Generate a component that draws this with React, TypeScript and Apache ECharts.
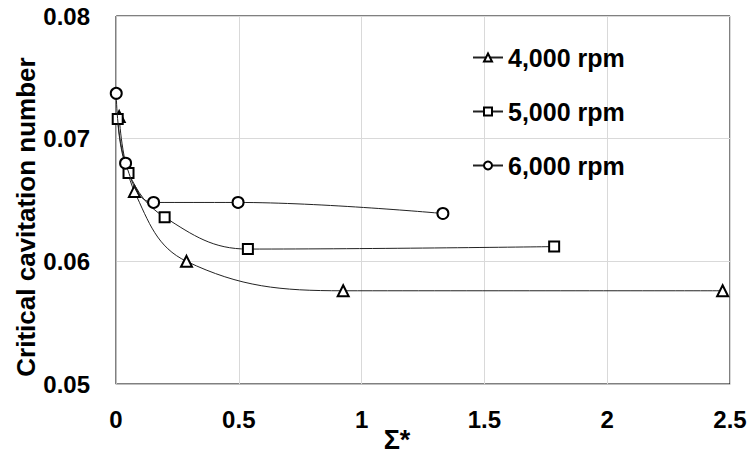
import React, { useEffect, useRef } from "react";
import * as echarts from "echarts";

const seriesNames = ["4,000 rpm", "5,000 rpm", "6,000 rpm"];
const symbols = ["triangle", "rect", "circle"];

const x4000 = [0.013, 0.075, 0.287, 0.925, 2.47];
const y4000 = [0.0718, 0.0657, 0.06, 0.0576, 0.0576];

const x5000 = [0.007, 0.051, 0.198, 0.537, 1.784];
const y5000 = [0.0716, 0.0672, 0.0636, 0.061, 0.0612];

const x6000 = [0.001, 0.039, 0.153, 0.497, 1.331];
const y6000 = [0.0737, 0.068, 0.0648, 0.0648, 0.0639];

const xTicks = [0, 0.5, 1, 1.5, 2, 2.5];
const yTicks = [0.05, 0.06, 0.07, 0.08];

const FONT = "'Liberation Sans', Arial, sans-serif";

export default function App() {
  const ref = useRef<HTMLDivElement>(null);
  useEffect(() => {
    document.body.style.margin = "0";
    if (!ref.current) return;
    const chart = echarts.init(ref.current, null, { renderer: "svg" });
    const xs = [x4000, x5000, x6000];
    const ys = [y4000, y5000, y6000];
    chart.setOption({
      animation: false,
      backgroundColor: "#ffffff",
      textStyle: { fontFamily: FONT },
      grid: {
        left: 116,
        right: 26,
        top: 16,
        bottom: 77,
        show: true,
        borderColor: "#000000",
        borderWidth: 1,
        backgroundColor: "transparent",
      },
      legend: {
        orient: "vertical",
        left: 467,
        top: 40,
        itemWidth: 30,
        itemHeight: 10,
        itemGap: 29,
        data: seriesNames,
        textStyle: {
          fontFamily: FONT,
          fontSize: 25,
          fontWeight: "bold",
          color: "#000",
        },
      },
      xAxis: {
        type: "value",
        min: xTicks[0],
        max: xTicks[xTicks.length - 1],
        interval: 0.5,
        axisLine: { show: true, lineStyle: { color: "#bfbfbf", width: 1 } },
        axisTick: { show: false },
        splitLine: { show: true, lineStyle: { color: "#d9d9d9", width: 1 } },
        axisLabel: {
          margin: 23,
          fontSize: 24,
          fontWeight: "bold",
          color: "#000",
          fontFamily: FONT,
          formatter: (v: number) => String(v),
        },
      },
      yAxis: {
        type: "value",
        min: yTicks[0],
        max: yTicks[yTicks.length - 1],
        interval: 0.01,
        axisLine: { show: true, lineStyle: { color: "#bfbfbf", width: 1 } },
        axisTick: { show: false },
        splitLine: { show: true, lineStyle: { color: "#d9d9d9", width: 1 } },
        axisLabel: {
          margin: 26,
          fontSize: 24,
          fontWeight: "bold",
          color: "#000",
          fontFamily: FONT,
          formatter: (v: number) => v.toFixed(2),
        },
      },
      graphic: [
        {
          type: "text",
          x: 26,
          y: 217,
          rotation: Math.PI / 2,
          style: {
            text: "Critical cavitation number",
            fontFamily: FONT,
            fontSize: 26,
            fontWeight: "bold",
            fill: "#000",
            align: "center",
            verticalAlign: "middle",
          },
        },
        {
          type: "text",
          x: 397,
          y: 440,
          style: {
            text: "Σ*",
            fontFamily: FONT,
            fontSize: 27,
            fontWeight: "bold",
            fill: "#000",
            align: "center",
            verticalAlign: "middle",
          },
        },
      ],
      series: seriesNames.map((name, i) => ({
        name,
        type: "line",
        smooth: 0.4,
        symbol: symbols[i],
        symbolSize: i === 1 ? 10 : 11,
        showAllSymbol: true,
        lineStyle: { color: "#222", width: 1 },
        itemStyle: { color: "#fff", borderColor: "#000", borderWidth: 2 },
        data: xs[i].map((x, j) => [x, ys[i][j]]),
        z: 3 + i,
      })),
    });
    return () => chart.dispose();
  }, []);
  return <div ref={ref} style={{ width: 756, height: 461 }} />;
}
